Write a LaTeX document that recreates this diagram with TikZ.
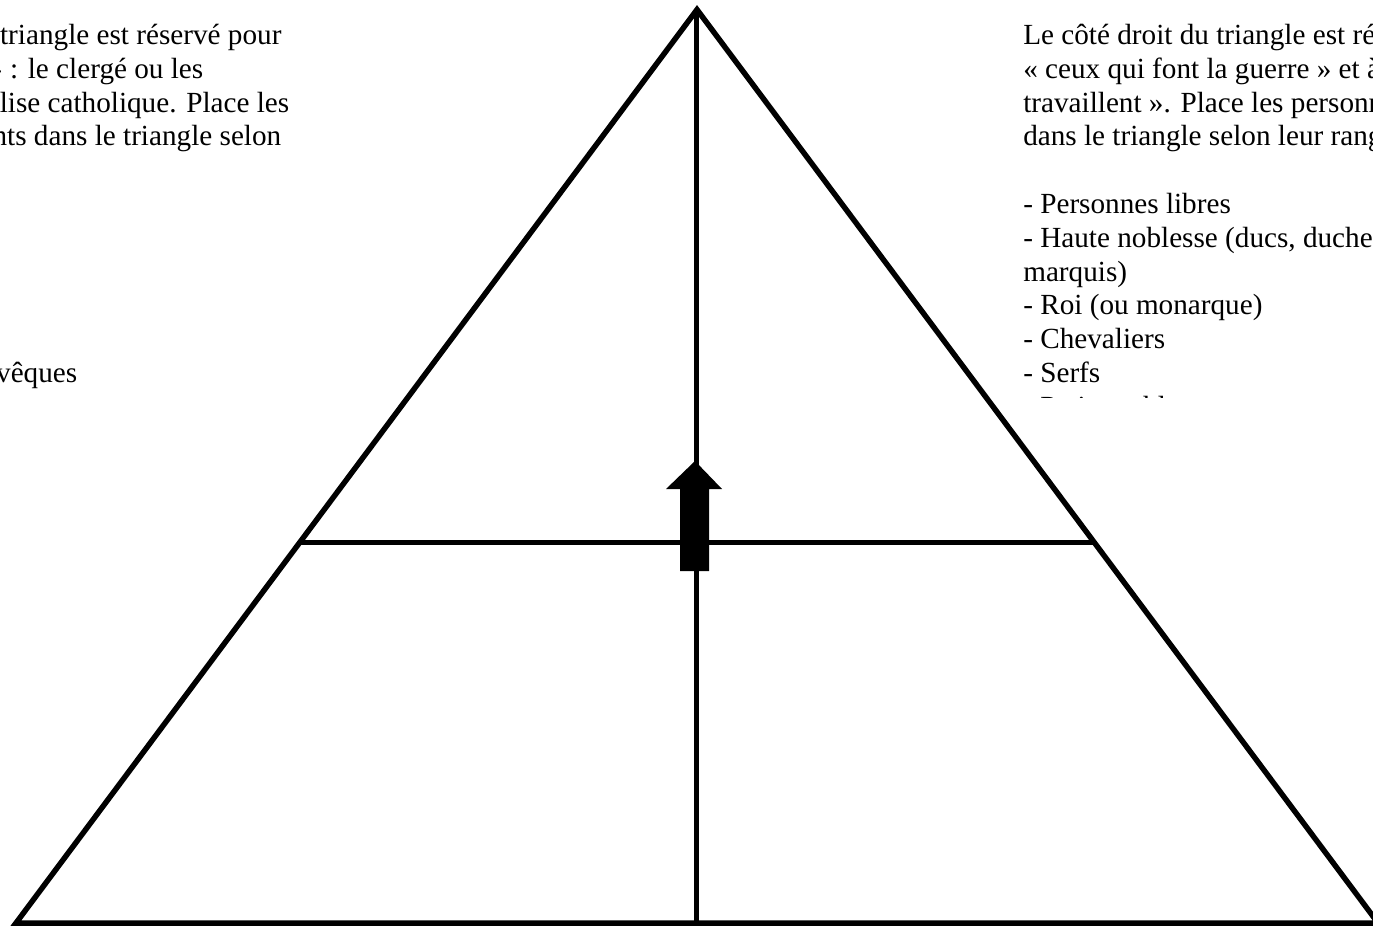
\documentclass[tikz,border=0pt]{standalone}
\usepackage{fontspec}
\setmainfont{Liberation Serif}
\begin{document}
\begin{tikzpicture}[x=0.75pt,y=-0.75pt,
  edge/.style={line width=4.1pt, line join=miter, line cap=butt},
  txt/.style={inner sep=0pt, font=\fontsize{21.9}{25.2}\selectfont},
  ltxt/.style={txt, anchor=base east},
  rtxt/.style={txt, anchor=base west},
  blockarrow/.style={fill=black, draw=none}]
\useasboundingbox (0,0) rectangle (1373,925);
\fill[white] (0,0) rectangle (1373,925);

% texts (clipped like the original text boxes)
\begin{scope}
\clip (0,0) rectangle (1373,397.5);
\node[ltxt] (l1) at (281.7,44.5) {Le côté gauche du triangle est réservé pour};
\node[ltxt] (l2) at (203.5,78.3) {« ceux qui prient » : le clergé ou les};
\node[ltxt] (l3) at (289.5,112.1) {membres de l'Église catholique. Place les};
\node[ltxt] (l4) at (281.5,145.9) {éléments suivants dans le triangle selon};
\node[ltxt] (l5) at (77.5,382.5) {- Archevêques};

\node[rtxt] (r1) at (1023,44.5) {Le côté droit du triangle est réservé à};
\node[rtxt] (r2) at (1023,78.3) {« ceux qui font la guerre » et à « ceux qui};
\node[rtxt] (r3) at (1023,112.1) {travaillent ». Place les personnages};
\node[rtxt] (r4) at (1023,145.9) {dans le triangle selon leur rang.};
\node[rtxt] (r5) at (1023,213.5) {- Personnes libres};
\node[rtxt] (r6) at (1023,247.3) {- Haute noblesse (ducs, duchesses, comtes,};
\node[rtxt] (r7) at (1023,281.1) {marquis)};
\node[rtxt] (r8) at (1023,314.9) {- Roi (ou monarque)};
\node[rtxt] (r9) at (1023,348.7) {- Chevaliers};
\node[rtxt] (r10) at (1023,382.5) {- Serfs};
\node[rtxt] (r11) at (1023,416.3) {- Petite noblesse};
\end{scope}

% triangle
\coordinate (apex) at (697,9.6);
\coordinate (bl) at (16,923);
\coordinate (br) at (1378,923);
\coordinate (base) at (696.5,923);
\coordinate (top) at (696.5,9.6);
\coordinate (ml) at (300,542.3);
\coordinate (mr) at (1094,542.3);

\draw[edge] (bl) -- (apex) -- (br) -- cycle;
\draw[edge] (top) -- (base);
\draw[edge] (ml) -- (mr);

% block arrow
\fill[blockarrow] (680,571) -- (709,571) -- (709,489) -- (722,489)
  -- (695,461) -- (666,489) -- (680,489) -- cycle;
\end{tikzpicture}
\end{document}
